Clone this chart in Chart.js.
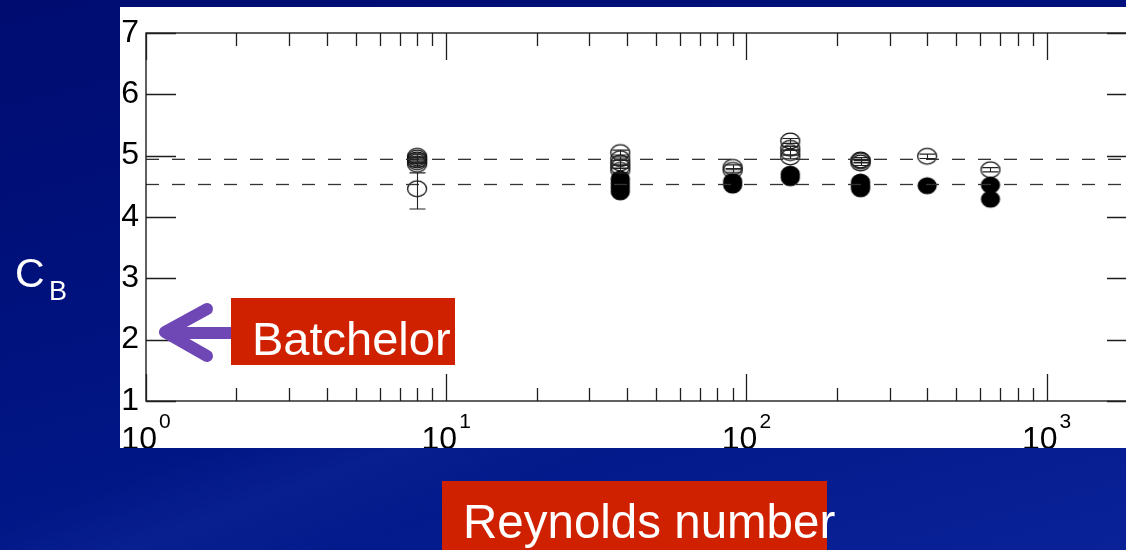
<!DOCTYPE html>
<html><head><meta charset="utf-8">
<script src="https://cdn.jsdelivr.net/npm/chart.js@4/dist/chart.umd.min.js"></script>
<style>
html,body{margin:0;padding:0;width:1126px;height:550px;overflow:hidden;}
body{background:
  linear-gradient(160deg, rgba(255,255,255,0) 0%, rgba(255,255,255,0) 55%, rgba(60,90,200,0.10) 62%, rgba(255,255,255,0) 70%),
  linear-gradient(165deg,#000c70 0%,#00127e 40%,#02198a 70%,#0a2298 100%);}
#wrap{position:absolute;left:0;top:0;width:1150px;height:550px;}
</style></head><body>
<div id="wrap"><canvas id="c" width="1150" height="550"></canvas></div>
<script>
// ---- data ----
const xTickValues = [1, 10, 100, 1000];
const xTickBase = ['10', '10', '10', '10'];
const xTickExp = ['0', '1', '2', '3'];
const yTickValues = [1, 2, 3, 4, 5, 6, 7];
const refLines = [4.94, 4.53];

const openRe = [8, 8, 8, 8, 8, 8, 38, 38, 38, 38, 38, 90, 90, 140, 140, 140, 140, 240, 240, 240, 400, 650];
const openCB = [4.99, 4.96, 4.93, 4.90, 4.86, 4.46, 5.05, 4.95, 4.88, 4.82, 4.76, 4.81, 4.76, 5.24, 5.12, 5.05, 4.98, 4.93, 4.91, 4.88, 4.99, 4.77];
const openErrUp = [0.04, 0.03, 0.04, 0.03, 0.04, 0.26, 0.04, 0.03, 0.04, 0.03, 0.04, 0.04, 0.03, 0.04, 0.03, 0.04, 0.03, 0.04, 0.03, 0.04, 0.035, 0.035];
const openErrDown = [0.04, 0.03, 0.04, 0.03, 0.04, 0.33, 0.04, 0.03, 0.04, 0.03, 0.04, 0.04, 0.03, 0.04, 0.03, 0.04, 0.03, 0.04, 0.03, 0.04, 0.035, 0.035];

const filledRe = [38, 38, 38, 38, 90, 90, 140, 140, 240, 240, 240, 400, 650, 650];
const filledCB = [4.62, 4.55, 4.48, 4.41, 4.58, 4.52, 4.70, 4.64, 4.57, 4.51, 4.46, 4.51, 4.52, 4.29];

const xMin = 1, xMax = 2000, yMin = 1, yMax = 7;
const yLabelText = ['C', 'B'];
const noteText = 'Batchelor';
const xTitleText = 'Reynolds number';

// ---- marker images ----
function ellipseImg(filled) {
  const c = document.createElement('canvas');
  c.width = 22; c.height = 20;
  const g = c.getContext('2d');
  g.beginPath();
  g.ellipse(11, 10, filled ? 9.6 : 9.5, filled ? 8.6 : 7.9, 0, 0, Math.PI * 2);
  if (filled) { g.fillStyle = '#000'; g.fill(); }
  else { g.strokeStyle = '#111'; g.lineWidth = 1.3; g.stroke(); }
  return c;
}
const FONT = '"Liberation Sans", Arial, Helvetica, sans-serif';

const panelPlugin = {
  id: 'panel',
  beforeDraw(chart) {
    const ctx = chart.ctx;
    ctx.save();
    ctx.fillStyle = '#ffffff';
    ctx.fillRect(120, 7, chart.width - 120, 441);
    ctx.restore();
  }
};

const decoPlugin = {
  id: 'deco',
  afterDatasetsDraw(chart) {
    const ctx = chart.ctx, ca = chart.chartArea;
    const xs = chart.scales.x, ys = chart.scales.y;
    ctx.save();
    // error bars on open points
    ctx.strokeStyle = '#222'; ctx.lineWidth = 1.1;
    for (let i = 0; i < openRe.length; i++) {
      const px = Math.round(xs.getPixelForValue(openRe[i])) + 0.5;
      const yt = ys.getPixelForValue(openCB[i] + openErrUp[i]);
      const yb = ys.getPixelForValue(openCB[i] - openErrDown[i]);
      ctx.beginPath();
      ctx.moveTo(px, yt); ctx.lineTo(px, yb);
      ctx.moveTo(px - 8, yt); ctx.lineTo(px + 8, yt);
      ctx.moveTo(px - 8, yb); ctx.lineTo(px + 8, yb);
      ctx.stroke();
    }
    // frame
    ctx.strokeStyle = '#1e1e1e'; ctx.lineWidth = 1.4;
    ctx.strokeRect(ca.left, ca.top, ca.right - ca.left, ca.bottom - ca.top);
    // x ticks (inward, top and bottom)
    ctx.lineWidth = 1.3;
    ctx.beginPath();
    for (let d = 0; d <= 3; d++) {
      for (let m = 1; m <= 9; m++) {
        const v = m * Math.pow(10, d);
        if (v >= xMax) break;
        const px = Math.round(xs.getPixelForValue(v)) + 0.5;
        const len = m === 1 ? 27 : 13;
        ctx.moveTo(px, ca.top); ctx.lineTo(px, ca.top + len);
        ctx.moveTo(px, ca.bottom); ctx.lineTo(px, ca.bottom - len);
      }
    }
    // y ticks left and right
    for (const v of yTickValues) {
      const py = Math.round(ys.getPixelForValue(v)) + 0.5;
      ctx.moveTo(ca.left, py); ctx.lineTo(ca.left + 30, py);
      ctx.moveTo(ca.right, py); ctx.lineTo(ca.right - 30, py);
    }
    ctx.stroke();
    ctx.restore();
  },
  afterDraw(chart) {
    const ctx = chart.ctx;
    const xs = chart.scales.x;
    ctx.save();
    // x tick labels with superscripts, clipped to the white panel
    ctx.beginPath(); ctx.rect(120, 7, chart.width - 120, 441); ctx.clip();
    ctx.fillStyle = '#000';
    ctx.textBaseline = 'alphabetic';
    for (let i = 0; i < xTickValues.length; i++) {
      const px = xs.getPixelForValue(xTickValues[i]);
      ctx.font = '32px ' + FONT;
      const wb = ctx.measureText(xTickBase[i]).width;
      ctx.font = '21px ' + FONT;
      const we = ctx.measureText(xTickExp[i]).width;
      const x0 = px - (wb + 2 + we) / 2;
      ctx.font = '32px ' + FONT;
      ctx.textAlign = 'left';
      ctx.fillText(xTickBase[i], x0, 449);
      ctx.font = '21px ' + FONT;
      ctx.fillText(xTickExp[i], x0 + wb + 2, 428);
    }
    ctx.restore();

    ctx.save();
    // C_B axis label
    ctx.fillStyle = '#ffffff';
    ctx.textAlign = 'left'; ctx.textBaseline = 'alphabetic';
    ctx.font = '41px ' + FONT;
    ctx.fillText(yLabelText[0], 15, 287);
    ctx.font = '27px ' + FONT;
    ctx.fillText(yLabelText[1], 49, 300);

    // Batchelor arrow
    ctx.strokeStyle = '#7048b6'; ctx.lineWidth = 12; ctx.lineCap = 'round'; ctx.lineJoin = 'round';
    ctx.beginPath();
    ctx.moveTo(232, 333); ctx.lineTo(168, 333);
    ctx.stroke();
    ctx.beginPath();
    ctx.moveTo(207, 309); ctx.lineTo(165, 332); ctx.lineTo(207, 356);
    ctx.stroke();
    // Batchelor box
    ctx.fillStyle = '#cf2000';
    ctx.fillRect(231, 298, 224, 67);
    ctx.fillStyle = '#ffffff';
    ctx.font = '47px ' + FONT;
    ctx.fillText(noteText, 252, 355);

    // Reynolds number title
    ctx.fillStyle = '#cf2000';
    ctx.fillRect(442, 481, 385, 69);
    ctx.fillStyle = '#ffffff';
    ctx.font = '47.5px ' + FONT;
    ctx.fillText(xTitleText, 463, 538);
    ctx.restore();
  }
};

const openPts = openRe.map((x, i) => ({x: x, y: openCB[i]}));
const filledPts = filledRe.map((x, i) => ({x: x, y: filledCB[i]}));

new Chart(document.getElementById('c'), {
  type: 'scatter',
  data: {
    datasets: [
      {type: 'line', data: [{x: xMin, y: refLines[0]}, {x: xMax, y: refLines[0]}], borderColor: '#333', borderWidth: 1.3, borderDash: [13, 13], pointRadius: 0, fill: false},
      {type: 'line', data: [{x: xMin, y: refLines[1]}, {x: xMax, y: refLines[1]}], borderColor: '#333', borderWidth: 1.3, borderDash: [13, 13], pointRadius: 0, fill: false},
      {data: filledPts, pointStyle: ellipseImg(true), pointRadius: 9},
      {data: openPts, pointStyle: ellipseImg(false), pointRadius: 9}
    ]
  },
  options: {
    responsive: false, animation: false, devicePixelRatio: 1,
    layout: {padding: {left: 0, top: 33, right: 13, bottom: 0}},
    plugins: {legend: {display: false}, tooltip: {enabled: false}},
    scales: {
      x: {type: 'logarithmic', min: xMin, max: xMax,
          grid: {display: false, drawTicks: false}, border: {display: false},
          ticks: {display: false},
          afterFit(s) { s.height = 149; }},
      y: {type: 'linear', min: yMin, max: yMax,
          grid: {display: false, drawTicks: false}, border: {display: false},
          ticks: {stepSize: 1, padding: 7, color: '#000', font: {family: FONT, size: 32}},
          afterFit(s) { s.width = 146; }}
    }
  },
  plugins: [panelPlugin, decoPlugin]
});
</script>
</body></html>
